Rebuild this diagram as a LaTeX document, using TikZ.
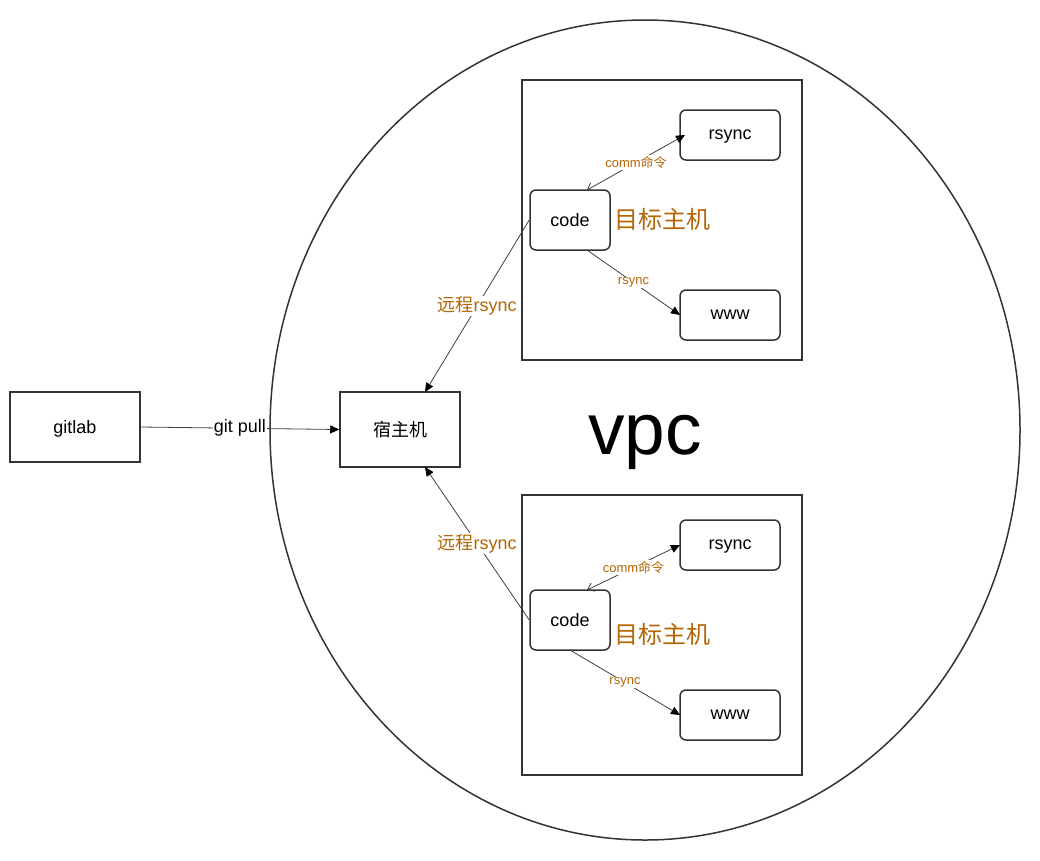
\documentclass[tikz,border=0pt]{standalone}
\usepackage{fontspec}
\setmainfont{Liberation Sans}
\newfontfamily\cjk{Noto Sans CJK SC}
\usetikzlibrary{arrows.meta}
\definecolor{labelorange}{HTML}{B46504}
\definecolor{linegray}{HTML}{333333}
\tikzset{
  hostbox/.style={draw=linegray, line width=1.5pt, minimum width=#1, minimum height=70pt, inner sep=0pt, text depth=1pt, font=\fontsize{18}{20}\selectfont},
  appbox/.style={draw=linegray, line width=1.5pt, rounded corners=6pt, minimum width=100pt, minimum height=50pt, inner sep=0pt, text depth=1pt, font=\fontsize{18}{20}\selectfont},
  link/.style={draw=black!75, line width=0.8pt},
  tip/.style={-{Triangle[length=9pt,width=8pt,color=black]}},
  edgelabel/.style={fill=white, inner sep=1pt, text=labelorange, font=\fontsize{#1}{#1}\selectfont},
  edgelabel/.default=13
}
\begin{document}
\begin{tikzpicture}[x=1pt,y=-1pt]
        \useasboundingbox (0,0) rectangle (1040,860);
        % vpc
        \draw[linegray, line width=1.5pt] (645,430) ellipse [x radius=375, y radius=410];
        \node[font=\fontsize{73}{73}\selectfont] (vpc) at (645,442) {vpc};
        % hosts
        \node[hostbox=130pt] (gitlab) at (75,427) {gitlab};
        \node[hostbox=120pt, minimum height=75pt] (host) at (400,429.5) {\cjk 宿主机};
        % target hosts
        \draw[linegray, line width=1.5pt] (522,80) rectangle (802,360);
        \draw[linegray, line width=1.5pt] (522,495) rectangle (802,775);
        \node[text=labelorange, font=\fontsize{24}{24}\selectfont\cjk] (targetA) at (662,219) {目标主机};
        \node[text=labelorange, font=\fontsize{24}{24}\selectfont\cjk] (targetB) at (662,634) {目标主机};
        \node[appbox, minimum width=80pt, minimum height=60pt] (codeA) at (570,220) {code};
        \node[appbox] (rsyncA) at (730,135) {rsync};
        \node[appbox] (wwwA) at (730,315) {www};
        \node[appbox, minimum width=80pt, minimum height=60pt] (codeB) at (570,620) {code};
        \node[appbox] (rsyncB) at (730,545) {rsync};
        \node[appbox] (wwwB) at (730,715) {www};
        % git pull
        \draw[link, tip] (gitlab.east) -- node[fill=white, inner sep=1pt, font=\fontsize{18}{18}\selectfont] (pull) {git pull} (host.west);
        % remote rsync
        \draw[link, tip] (codeA.west) -- node[edgelabel=18] (remoteA) {{\cjk 远程}rsync} (425,392);
        \draw[link, tip] (codeB.west) -- node[edgelabel=18] (remoteB) {{\cjk 远程}rsync} (425,467);
        % inside the targets
        \draw[link, {Straight Barb[length=6pt,width=9pt]}-{Triangle[length=9pt,width=8pt,color=black]}] (587,190) -- node[edgelabel] (commA) {comm{\cjk 命令}} (685,135);
        \draw[link, tip] (587,250) -- node[edgelabel] (syncA) {rsync} (680,315);
        \draw[link, {Straight Barb[length=6pt,width=9pt]}-{Triangle[length=9pt,width=8pt,color=black]}] (587,590) -- node[edgelabel] (commB) {comm{\cjk 命令}} (680,545);
        \draw[link, tip] (570,650) -- node[edgelabel] (syncB) {rsync} (680,715);
\end{tikzpicture}
\end{document}
